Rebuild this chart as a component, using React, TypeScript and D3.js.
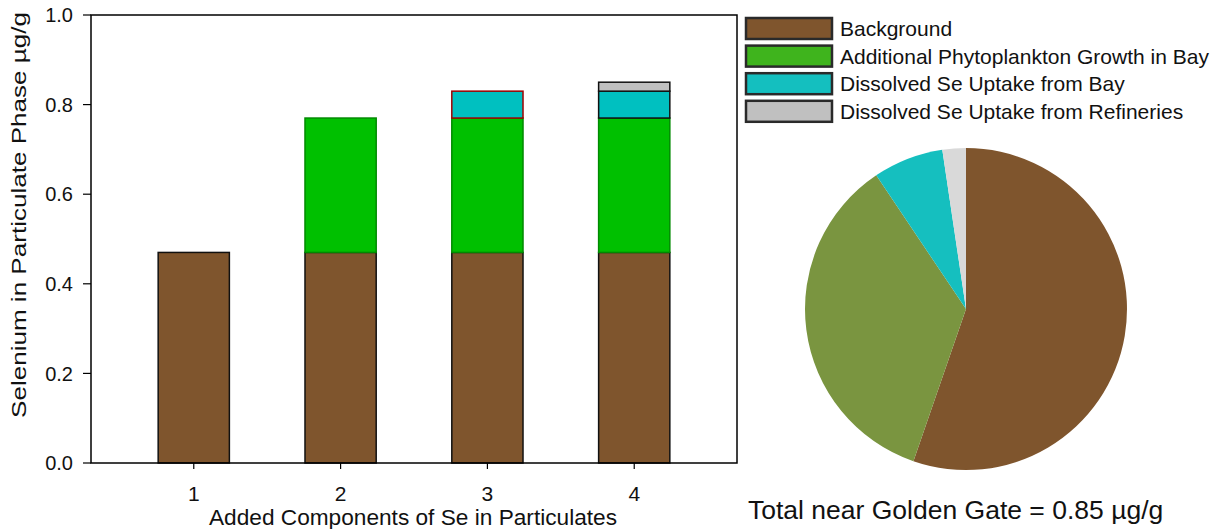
import React from "react";
import * as d3 from "d3";

const categories = [1, 2, 3, 4];
const seriesNames = [
  "Background",
  "Additional Phytoplankton Growth in Bay",
  "Dissolved Se Uptake from Bay",
  "Dissolved Se Uptake from Refineries",
];
const background = [0.47, 0.47, 0.47, 0.47];
const phyto = [0, 0.3, 0.3, 0.3];
const bayUptake = [0, 0, 0.06, 0.06];
const refineries = [0, 0, 0, 0.02];
const yTicks = [0, 0.2, 0.4, 0.6, 0.8, 1.0];
const pieValues = [0.47, 0.3, 0.06, 0.02];
const totalLabel = "Total near Golden Gate = 0.85 µg/g";

const barFill = ["#7f552d", "#00c000", "#00c0c0", "#c0c0c0"];
const legendFill = ["#7f552d", "#3fb41d", "#14bfbf", "#c0c0c0"];
const pieFill = ["#7f552d", "#7a9540", "#15bfbf", "#d9d9d9"];

export default function App() {
  const W = 1232, H = 529;
  const left = 91, right = 737, top = 15, bottom = 463;
  const x = d3.scaleLinear().domain([0.3, 4.7]).range([left, right]);
  const y = d3.scaleLinear().domain([0, 1]).range([bottom, top]);
  const bw = x(0.485) - x(0);
  const series = [background, phyto, bayUptake, refineries];
  const font = "Liberation Sans, Arial, sans-serif";

  const bars: JSX.Element[] = [];
  categories.forEach((c, i) => {
    let base = 0;
    series.forEach((s, k) => {
      const v = s[i];
      if (v <= 0) return;
      const y0 = y(base), y1 = y(base + v);
      let stroke = "#111";
      if (k === 1) stroke = "#008a00";
      if (k === 2 && i === 2) stroke = "#a00000";
      bars.push(
        <rect key={`b${i}-${k}`} x={x(c) - bw / 2} y={y1} width={bw} height={y0 - y1}
          fill={barFill[k]} stroke={stroke} strokeWidth={1.5} />
      );
      base += v;
    });
  });

  const pie = d3.pie<number>().sort(null).value((d) => d)(pieValues);
  const arc = d3.arc<d3.PieArcDatum<number>>().innerRadius(0).outerRadius(161);

  return (
    <svg width={W} height={H} style={{ display: "block", position: "absolute", left: 0, top: 0 }} fontFamily={font}>
      <rect x={0} y={0} width={W} height={H} fill="#fff" />
      {bars}
      {/* frame */}
      <rect x={left} y={top} width={right - left} height={bottom - top} fill="none" stroke="#000" strokeWidth={1.5} />
      {yTicks.map((t) => (
        <g key={`yt${t}`}>
          <line x1={left - 8} x2={left} y1={y(t)} y2={y(t)} stroke="#000" strokeWidth={1.2} />
          <text x={73} y={y(t)} dy="0.36em" textAnchor="end" fontSize={20} fill="#111">
            {t.toFixed(1)}
          </text>
        </g>
      ))}
      {categories.map((c) => (
        <g key={`xt${c}`}>
          <line x1={x(c)} x2={x(c)} y1={bottom} y2={bottom + 6} stroke="#000" strokeWidth={1.2} />
          <text x={x(c)} y={501} textAnchor="middle" fontSize={21} fill="#111">{c}</text>
        </g>
      ))}
      <text x={413} y={525} textAnchor="middle" fontSize={22} fill="#111" textLength={408} lengthAdjust="spacingAndGlyphs">
        Added Components of Se in Particulates
      </text>
      <text transform={`translate(26,215) rotate(-90)`} textAnchor="middle" fontSize={21} fill="#111" textLength={406} lengthAdjust="spacingAndGlyphs">
        Selenium in Particulate Phase µg/g
      </text>
      {/* legend */}
      {seriesNames.map((n, k) => (
        <g key={`lg${k}`}>
          <rect x={746} y={18 + k * 27.6} width={86} height={21} fill={legendFill[k]} stroke="#2a2a2a" strokeWidth={2.5} />
          <text x={840} y={18 + k * 27.6 + 10.5} dy="0.36em" fontSize={21} fill="#111">{n}</text>
        </g>
      ))}
      {/* pie */}
      <g transform="translate(966,309)">
        {pie.map((p, k) => (
          <path key={`p${k}`} d={arc(p) || ""} fill={pieFill[k]} />
        ))}
      </g>
      <text x={748} y={519} fontSize={26.5} fill="#111">{totalLabel}</text>
    </svg>
  );
}
